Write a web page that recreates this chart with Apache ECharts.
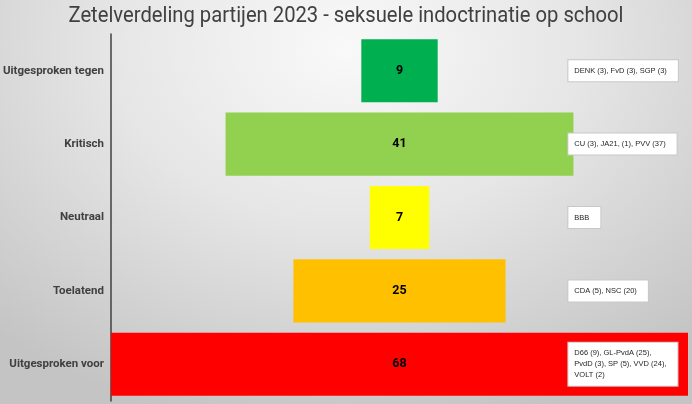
<!DOCTYPE html>
<html>
<head>
<meta charset="utf-8">
<script src="https://cdn.jsdelivr.net/npm/echarts@6/dist/echarts.min.js"></script>
<style>
  html, body { margin: 0; padding: 0; }
  #chart {
    width: 692px; height: 404px;
    background: radial-gradient(ellipse 75% 95% at 50% 12%, #f9f9f9 0%, #e6e6e6 45%, #c4c4c4 100%);
  }
</style>
</head>
<body>
<div id="chart"></div>
<script>
// categorieën en zetels
const categories = ['Uitgesproken tegen', 'Kritisch', 'Neutraal', 'Toelatend', 'Uitgesproken voor'];
const seats = [9, 41, 7, 25, 68];
const barColors = ['#00b050', '#92d050', '#ffff00', '#ffc000', '#ff0000'];
const notes = [
    'DENK (3), FvD (3), SGP (3)',
    'CU (3), JA21, (1), PVV (37)',
    'BBB',
    'CDA (5), NSC (20)',
    'D66 (9), GL-PvdA (25),\nPvdD (3), SP (5), VVD (24),\nVOLT (2)'
];
const titleText = 'Zetelverdeling partijen 2023 - seksuele indoctrinatie op school';

const maxSeats = Math.max(...seats);
const noteX = 53.9; // plek van de tekstvakjes op de x-as

// titel smaller maken (geen narrow font beschikbaar)
const titleFont = '22px Roboto';
const ctx = document.createElement('canvas').getContext('2d');
ctx.font = titleFont;
const titleScale = 555 / ctx.measureText(titleText).width;

const chart = echarts.init(document.getElementById('chart'));
const option = {
    backgroundColor: 'transparent',
    graphic: [{
        type: 'text',
        x: 346,
        y: 16,
        scaleX: titleScale,
        style: {
            text: titleText,
            font: titleFont,
            fill: '#404040',
            align: 'center',
            verticalAlign: 'middle'
        }
    }],
    grid: { left: 111, right: 4, top: 34, bottom: 3, outerBoundsMode: 'none' },
    xAxis: {
        type: 'value',
        min: 0,
        max: maxSeats,
        show: false
    },
    yAxis: {
        type: 'category',
        inverse: true,
        data: categories,
        axisLine: { show: true, lineStyle: { color: '#404040', width: 1.5 } },
        axisTick: { show: false },
        axisLabel: {
            margin: 7,
            fontFamily: 'Roboto, sans-serif',
            fontSize: 11.5,
            fontWeight: 'bold',
            color: '#404040'
        }
    },
    series: [
        {
            // onzichtbaar deel om de balken te centreren
            type: 'bar',
            stack: 'funnel',
            silent: true,
            barCategoryGap: '14%',
            itemStyle: { color: 'transparent' },
            data: seats.map(v => (maxSeats - v) / 2)
        },
        {
            type: 'bar',
            stack: 'funnel',
            barCategoryGap: '14%',
            data: seats.map((v, i) => ({ value: v, itemStyle: { color: barColors[i] } })),
            label: {
                show: true,
                position: 'inside',
                fontFamily: 'Roboto, sans-serif',
                fontSize: 12.5,
                fontWeight: 'bold',
                color: '#000'
            }
        },
        {
            type: 'scatter',
            symbolSize: 0,
            silent: true,
            itemStyle: { opacity: 1 },
            data: notes.map((n, i) => [noteX, i]),
            label: {
                show: true,
                position: 'right',
                distance: 0,
                formatter: p => notes[p.dataIndex],
                fontFamily: '"Liberation Sans", Arial, sans-serif',
                fontSize: 7.5,
                lineHeight: 11,
                color: '#262626',
                backgroundColor: '#ffffff',
                borderColor: '#c8c8c8',
                borderWidth: 1,
                padding: [5, 11, 5, 6]
            }
        }
    ]
};
chart.setOption(option);
</script>
</body>
</html>
